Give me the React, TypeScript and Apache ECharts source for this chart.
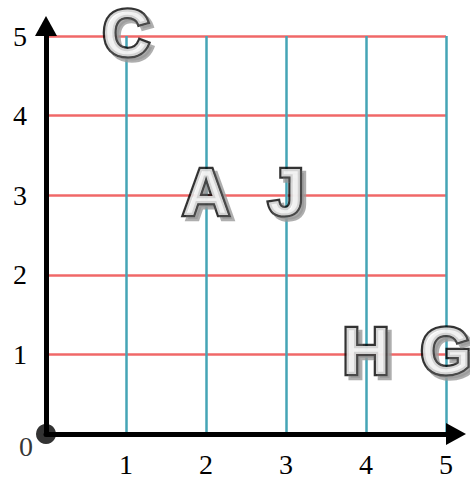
import React, { useEffect, useRef } from "react";
import * as echarts from "echarts";

const letters = ["C", "A", "J", "H", "G"];
const letterX = [1, 2, 3, 4, 5];
const letterY = [5, 3, 3, 1, 1];
const axisMin = 0;
const axisMax = 5;
const tickStep = 1;

export default function App() {
  const ref = useRef<HTMLDivElement>(null);
  useEffect(() => {
    if (!ref.current) return;
    const chart = echarts.init(ref.current, undefined, { renderer: "svg" });
    const axisCommon = {
      type: "value",
      min: axisMin,
      max: axisMax,
      interval: tickStep,
      axisTick: { show: false },
      axisLine: {
        show: true,
        onZero: false,
        symbol: ["none", "triangle"],
        symbolSize: [22, 20],
        symbolOffset: [0, 10],
        lineStyle: { color: "#000", width: 5 },
      },
      axisLabel: {
        fontFamily: "Liberation Serif",
        fontSize: 28,
        color: "#000",
        formatter: (v: number) => (v === 0 ? "" : String(v)),
      },
    };
    const letterData = letters.map((n, i) => ({ name: n, value: [letterX[i], letterY[i]] }));
    chart.setOption({
      animation: false,
      backgroundColor: "#fff",
      grid: { left: 46, right: 24, top: 36, bottom: 43, containLabel: false },
      xAxis: {
        ...axisCommon,
        axisLabel: { ...axisCommon.axisLabel, margin: 16 },
        splitLine: {
          show: true,
          showMinLine: false,
          lineStyle: { color: "#45a5b6", width: 2.5 },
        },
      },
      yAxis: {
        ...axisCommon,
        axisLabel: { ...axisCommon.axisLabel, margin: 19 },
        splitLine: {
          show: true,
          showMinLine: false,
          lineStyle: { color: "#f06868", width: 2.5 },
        },
      },
      series: [
        {
          type: "scatter",
          clip: false,
          symbolSize: 1,
          itemStyle: { color: "rgba(0,0,0,0)" },
          z: 5,
          data: letterData,
          label: {
            show: true,
            position: "inside",
            formatter: "{b}",
            fontFamily: "Liberation Sans",
            fontWeight: "bold",
            fontSize: 66,
            offset: [0, -3],
            color: "#fff",
            textBorderColor: "#000",
            textBorderWidth: 4.5,
            textShadowColor: "#9a9a9a",
            textShadowBlur: 1,
            textShadowOffsetX: 4,
            textShadowOffsetY: 4,
          },
        },
        {
          type: "scatter",
          clip: false,
          symbol: "circle",
          symbolSize: 20,
          itemStyle: { color: "#000" },
          z: 6,
          data: [{ name: "0", value: [axisMin, axisMin] }],
          label: {
            show: true,
            position: [-10, 22],
            align: "center",
            verticalAlign: "middle",
            formatter: "{b}",
            fontFamily: "Liberation Serif",
            fontSize: 28,
            color: "#000",
          },
        },
      ],
    });
    return () => chart.dispose();
  }, []);
  return (
    <div
      ref={ref}
      style={{ position: "fixed", left: 0, top: 0, width: 470, height: 478 }}
    />
  );
}
